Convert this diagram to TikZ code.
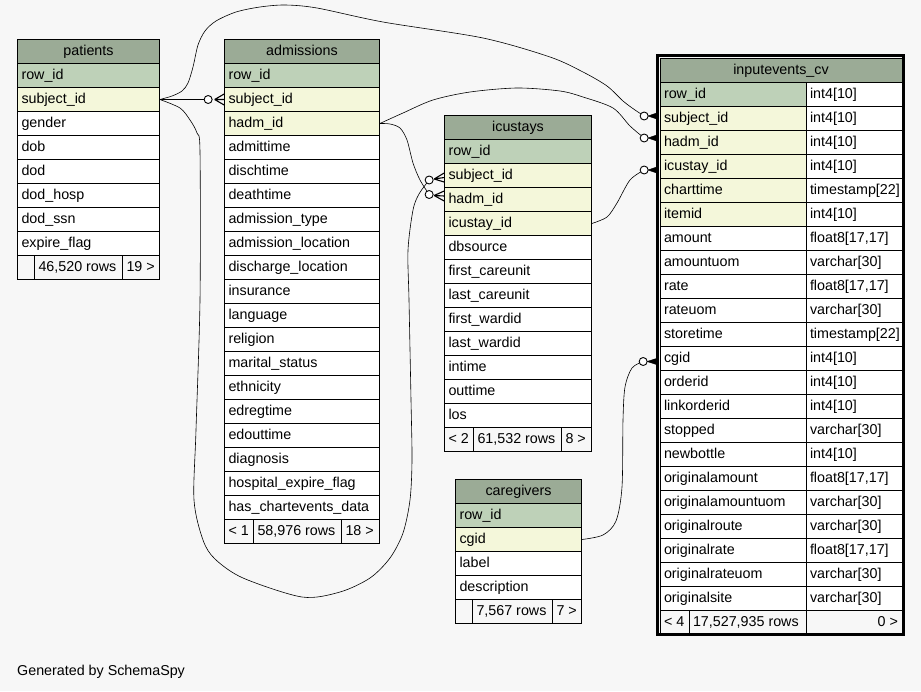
\documentclass[tikz,border=0pt]{standalone}
\usepackage{fontspec}
\setmainfont{Liberation Sans}
\usetikzlibrary{calc}
\definecolor{bgc}{HTML}{F7F7F7}
\definecolor{hdc}{HTML}{9BAB96}
\definecolor{pkc}{HTML}{BED1B8}
\definecolor{fkc}{HTML}{F4F7DA}
\definecolor{whc}{HTML}{FFFFFF}
\newcommand{\myfont}{\fontsize{14.3}{17}\selectfont}
\tikzset{
  cell/.style={draw=black, line width=0.7pt, inner xsep=4pt, inner ysep=0pt,
    minimum height=24pt, text height=10.5pt, text depth=3pt, font=\myfont},
  hdr/.style={cell, fill=hdc},
  conn/.style={draw=black, line width=0.6pt},
  circ/.style={draw=black, fill=white, line width=0.9pt},
  crowline/.style={draw=black, line width=1.1pt},
  wedge/.style={fill=black, draw=black, line width=0.5pt}
}
\newcommand{\mktable}[6]{%
  \pgfmathsetmacro\tblW{#4}%
  \pgfmathsetmacro\tblTW{#4-8}%
  \node[hdr, minimum width=\tblW pt] (#1-h) at ({#2+#4/2},{#3+12}) {#5};
  \foreach \ccol/\cfill [count=\i] in {#6} {
    \node[cell, fill=\cfill, minimum width=\tblW pt] (#1-\i) at ({#2+#4/2},{#3+12+24*\i}) {\makebox[\tblTW pt][l]{\ccol}};
  }%
}
\newcommand{\fcell}[6]{%
  \pgfmathsetmacro\tblTW{#4-8}%
  \node[cell, fill=bgc, minimum width=#4pt] (#1) at ({#2+#4/2},{#3+12}) {\makebox[\tblTW pt][#6]{#5}};%
}
\begin{document}
\begin{tikzpicture}[x=1pt,y=-1pt]
\useasboundingbox (0,0) rectangle (921,691);
\fill[bgc] (0,0) rectangle (921,691);

% patients
\mktable{pat}{17.5}{39.5}{142}{patients}{row\_id/pkc, subject\_id/fkc, gender/whc, dob/whc, dod/whc, dod\_hosp/whc, dod\_ssn/whc, expire\_flag/whc}
\fcell{pat-f1}{17.5}{255.5}{17}{}{l}
\fcell{pat-f2}{34.5}{255.5}{88}{46,520 rows}{l}
\fcell{pat-f3}{122.5}{255.5}{37}{19 >}{l}

% admissions
\mktable{adm}{224.5}{39.5}{155}{admissions}{row\_id/pkc, subject\_id/fkc, hadm\_id/fkc, admittime/whc, dischtime/whc, deathtime/whc, admission\_type/whc, admission\_location/whc, discharge\_location/whc, insurance/whc, language/whc, religion/whc, marital\_status/whc, ethnicity/whc, edregtime/whc, edouttime/whc, diagnosis/whc, hospital\_expire\_flag/whc, has\_chartevents\_data/whc}
\fcell{adm-f1}{224.5}{519.5}{29}{< 1}{l}
\fcell{adm-f2}{253.5}{519.5}{88}{58,976 rows}{l}
\fcell{adm-f3}{341.5}{519.5}{38}{18 >}{l}

% icustays
\mktable{icu}{444.5}{115.5}{147}{icustays}{row\_id/pkc, subject\_id/fkc, hadm\_id/fkc, icustay\_id/fkc, dbsource/whc, first\_careunit/whc, last\_careunit/whc, first\_wardid/whc, last\_wardid/whc, intime/whc, outtime/whc, los/whc}
\fcell{icu-f1}{444.5}{427.5}{29}{< 2}{l}
\fcell{icu-f2}{473.5}{427.5}{88}{61,532 rows}{l}
\fcell{icu-f3}{561.5}{427.5}{30}{8 >}{l}

% caregivers
\mktable{cg}{455.5}{479.5}{126}{caregivers}{row\_id/pkc, cgid/fkc, label/whc, description/whc}
\fcell{cg-f1}{455.5}{599.5}{17}{}{l}
\fcell{cg-f2}{472.5}{599.5}{80}{7,567 rows}{l}
\fcell{cg-f3}{552.5}{599.5}{29}{7 >}{l}

% inputevents_cv
\node[hdr, minimum width=242pt] (ie-h) at (781,70.5) {inputevents\_cv};
\foreach \ccol/\cfill [count=\i] in {row\_id/pkc, subject\_id/fkc, hadm\_id/fkc, icustay\_id/fkc, charttime/fkc, itemid/fkc, amount/whc, amountuom/whc, rate/whc, rateuom/whc, storetime/whc, cgid/whc, orderid/whc, linkorderid/whc, stopped/whc, newbottle/whc, originalamount/whc, originalamountuom/whc, originalroute/whc, originalrate/whc, originalrateuom/whc, originalsite/whc} {
  \node[cell, fill=\cfill, minimum width=146pt] (ie-\i) at (733,{70.5+24*\i}) {\makebox[138pt][l]{\ccol}};
}
\foreach \ccol [count=\i] in {int4[10], int4[10], int4[10], int4[10], timestamp[22], int4[10], {float8[17,17]}, varchar[30], {float8[17,17]}, varchar[30], timestamp[22], int4[10], int4[10], int4[10], varchar[30], int4[10], {float8[17,17]}, varchar[30], varchar[30], {float8[17,17]}, varchar[30], varchar[30]} {
  \node[cell, fill=whc, minimum width=96pt] (iet-\i) at (854,{70.5+24*\i}) {\makebox[88pt][l]{\ccol}};
}
\fcell{ie-f1}{660}{610.5}{29}{< 4}{l}
\fcell{ie-f2}{689}{610.5}{117}{17,527,935 rows}{l}
\fcell{ie-f3}{806}{610.5}{96}{0 >}{r}
\draw[line width=3pt] (657.5,55.5) rectangle (903.5,634.5);

% marker positions
\coordinate (cAdmS) at ($(adm-2.west)+(-16,0)$);
\coordinate (cIcuS) at ($(icu-2.west)+(-15,4.5)$);
\coordinate (cIcuH) at ($(icu-3.west)+(-15,-5)$);
\coordinate (cIeS) at ($(ie-2.west)+(-15.5,-2.5)$);
\coordinate (cIeH) at ($(ie-3.west)+(-15.5,-4.5)$);
\coordinate (cIeI) at ($(ie-4.west)+(-15.5,3.5)$);
\coordinate (cIeC) at ($(ie-12.west)+(-16.5,3)$);

% connectors
\draw[conn] (pat-2.east) -- (cAdmS);
\draw[conn] plot[smooth] coordinates {(pat-2.east) (172,96) (182,91) (188,83) (193,67) (198,45) (205,31) (216,21) (236,12) (260,7) (285,5) (317,8) (383,22) (483,38) (550,57) (583,72) (607,86) (623,101) (635,110) (cIeS)};
\draw[conn] plot[smooth] coordinates {(pat-2.east) (180,108) (190,120) (197,133) (200,152) (200,300) (196,430) (194,500) (203,540) (215,559) (243,578) (302,597) (340,592) (370,578) (390,558) (403,533) (410,500) (412,460) (411,400) (409,300) (408,250) (413,210) (419,194) (cIcuS)};
\draw[conn] plot[smooth] coordinates {(adm-3.east) (390,124) (400,128) (407,140) (413,163) (420,180) (cIcuH)};
\draw[conn] plot[smooth] coordinates {(adm-3.east) (403,113) (433,100) (470,92) (517,88) (560,91) (583,97) (613,108) (630,126) (cIeH)};
\draw[conn] plot[smooth] coordinates {(icu-4.east) (607,217) (617,203) (630,180) (cIeI)};
\draw[conn] plot[smooth] coordinates {(cg-2.east) (603,535) (616,521) (622,487) (623,420) (625,387) (632,368) (cIeC)};

% crow's feet (open) at admissions and icustays
\draw[crowline] ($(cAdmS)+(6.5,0)$) -- ($(adm-2.west)+(0,-5.5)$)
  ($(cAdmS)+(6.5,0)$) -- (adm-2.west)
  ($(cAdmS)+(6.5,0)$) -- ($(adm-2.west)+(0,5.5)$);
\draw[crowline] ($(cIcuS)+(5,-1)$) -- ($(icu-2.west)+(0,-2.5)$)
  ($(cIcuS)+(5,-1)$) -- ($(icu-2.west)+(0,2)$)
  ($(cIcuS)+(5,-1)$) -- ($(icu-2.west)+(0,6.5)$);
\draw[crowline] ($(cIcuH)+(5,1)$) -- ($(icu-3.west)+(0,-8.5)$)
  ($(cIcuH)+(5,1)$) -- ($(icu-3.west)+(0,-3.5)$)
  ($(cIcuH)+(5,1)$) -- ($(icu-3.west)+(0,1.5)$);
% filled wedges at inputevents_cv
\foreach \c/\r/\d in {cIeS/ie-2/-2.5, cIeH/ie-3/-4.5, cIeI/ie-4/3.5, cIeC/ie-12/3} {
  \filldraw[wedge] ($(\c)+(4,0)$) -- ($(\r.west)+(-1.5,\d-3.5)$) -- ($(\r.west)+(-1.5,\d+3.5)$) -- cycle;
}
% circles
\foreach \c in {cAdmS, cIcuS, cIcuH, cIeS, cIeH, cIeI, cIeC} {
  \draw[circ] (\c) circle[radius=4pt];
}

\node[font=\myfont, anchor=base west, inner sep=0pt] (gen) at (17,675) {Generated by SchemaSpy};
\end{tikzpicture}
\end{document}
